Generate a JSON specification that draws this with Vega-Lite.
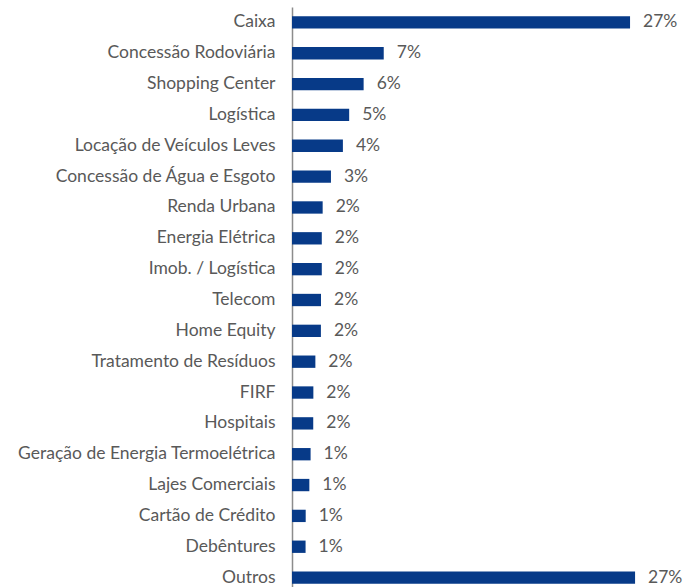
{
  "$schema": "https://vega.github.io/schema/vega-lite/v6.json",
  "width": 377,
  "height": 586,
  "autosize": {"type": "none"},
  "padding": {"left": 292, "top": 7, "right": 16, "bottom": 0},
  "background": "white",
  "config": {"view": {"stroke": null}, "font": "Lato"},
  "data": {"values": [
    {"setor": "Caixa", "valor": 0.269},
    {"setor": "Concessão Rodoviária", "valor": 0.073},
    {"setor": "Shopping Center", "valor": 0.057},
    {"setor": "Logística", "valor": 0.0455},
    {"setor": "Locação de Veículos Leves", "valor": 0.0405},
    {"setor": "Concessão de Água e Esgoto", "valor": 0.031},
    {"setor": "Renda Urbana", "valor": 0.0244},
    {"setor": "Energia Elétrica", "valor": 0.0237},
    {"setor": "Imob. / Logística", "valor": 0.0237},
    {"setor": "Telecom", "valor": 0.0231},
    {"setor": "Home Equity", "valor": 0.023},
    {"setor": "Tratamento de Resíduos", "valor": 0.0186},
    {"setor": "FIRF", "valor": 0.017},
    {"setor": "Hospitais", "valor": 0.0169},
    {"setor": "Geração de Energia Termoelétrica", "valor": 0.0148},
    {"setor": "Lajes Comerciais", "valor": 0.0138},
    {"setor": "Cartão de Crédito", "valor": 0.0109},
    {"setor": "Debêntures", "valor": 0.0108},
    {"setor": "Outros", "valor": 0.273}
  ]},
  "encoding": {
    "y": {"field": "setor", "type": "nominal", "sort": null,
      "scale": {"paddingInner": 0.6, "paddingOuter": 0.3},
      "axis": {"title": null, "ticks": false, "domainColor": "#8c8c8c", "domainWidth": 1.5,
        "labelColor": "#595959", "labelFontSize": 17.5, "labelPadding": 17, "labelFont": "Lato", "labelLimit": 0}},
    "x": {"field": "valor", "type": "quantitative",
      "scale": {"domain": [0, 0.30], "nice": false},
      "axis": null}
  },
  "layer": [
    {"mark": {"type": "bar", "color": "#073a88"}},
    {"mark": {"type": "text", "align": "left", "dx": 13, "color": "#595959", "fontSize": 17.5, "font": "Lato"},
      "encoding": {"text": {"field": "valor", "type": "quantitative", "format": ".0%"}}}
  ]
}
